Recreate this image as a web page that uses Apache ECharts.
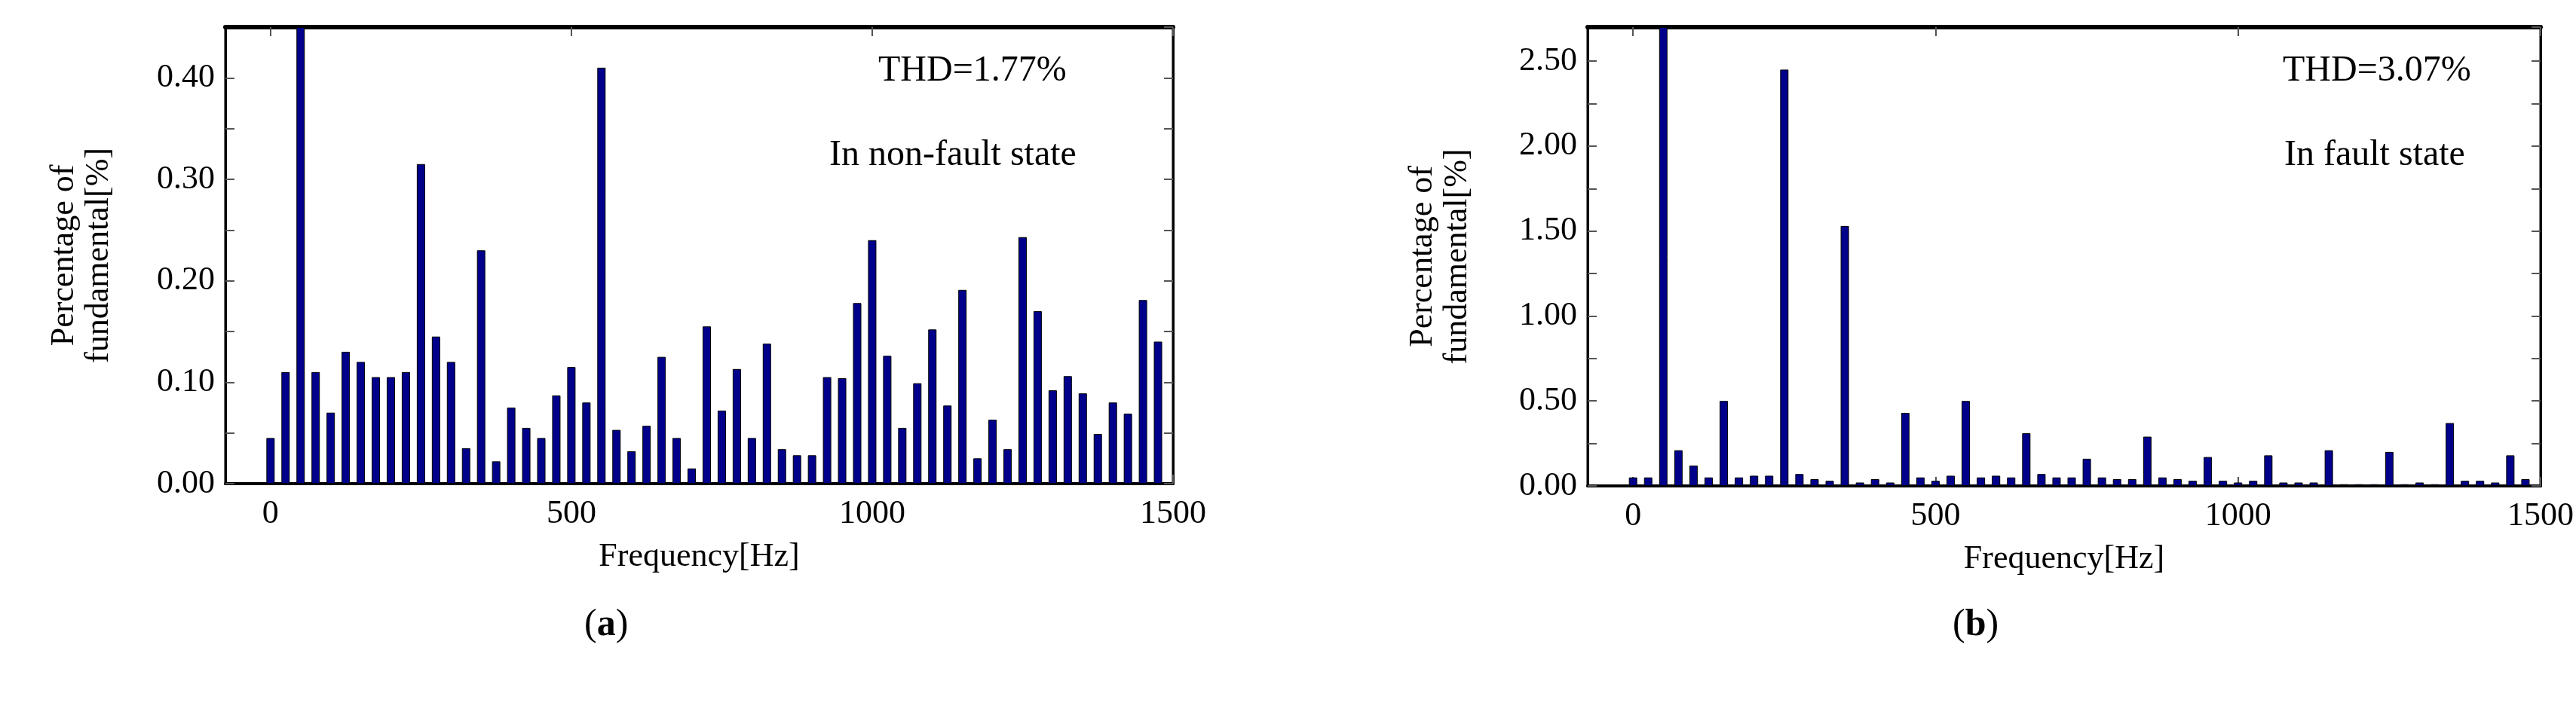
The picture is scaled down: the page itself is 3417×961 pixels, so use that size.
<!DOCTYPE html><html><head><meta charset="utf-8">
<script src="https://cdn.jsdelivr.net/npm/echarts@6/dist/echarts.min.js"></script>
<style>body{margin:0;background:#fff}#c{width:3417px;height:961px}</style></head><body><div id="c"></div>
<script>
const freqs = Array.from({length:60},(_,i)=>i*25);
const xTicks = [0,500,1000,1500];
const valsA = [0.045,0.11,0.45,0.11,0.07,0.13,0.12,0.105,0.105,0.11,0.315,0.145,0.12,0.035,0.23,0.022,0.075,0.055,0.045,0.087,0.115,0.08,0.41,0.053,0.032,0.057,0.125,0.045,0.015,0.155,0.072,0.113,0.045,0.138,0.034,0.028,0.028,0.105,0.104,0.178,0.24,0.126,0.055,0.099,0.152,0.077,0.191,0.025,0.063,0.034,0.243,0.17,0.092,0.106,0.089,0.049,0.08,0.069,0.181,0.14];
const valsB = [0.05,0.05,2.7,0.21,0.12,0.05,0.5,0.05,0.06,0.06,2.45,0.07,0.04,0.03,1.53,0.02,0.04,0.02,0.43,0.05,0.03,0.06,0.5,0.05,0.06,0.05,0.31,0.07,0.05,0.05,0.16,0.05,0.04,0.04,0.29,0.05,0.04,0.03,0.17,0.03,0.02,0.03,0.18,0.02,0.02,0.02,0.21,0.01,0.01,0.01,0.2,0.01,0.02,0.01,0.37,0.03,0.03,0.02,0.18,0.04];
const textA = ["THD=1.77%","In non-fault state"];
const textB = ["THD=3.07%","In fault state"];
const F = "Liberation Serif";
const grids = [{left:299,right:3417-1556,top:36,bottom:961-642},{left:2106,right:3417-3372,top:36,bottom:961-645}]
  .map(g=>Object.assign(g,{show:true,borderColor:'#000',borderWidth:3}));
function xa(i,show){return {gridIndex:i,type:'value',min:-75,max:1500,position:show?'bottom':'top',
 axisLine:{show:true,onZero:false,lineStyle:{color:'#000',width:show?4:6}},
 axisTick:{show:true,inside:true,length:12,customValues:xTicks,lineStyle:{color:'#555',width:2}},
 axisLabel:{show:show,customValues:xTicks,formatter:v=>String(v),fontFamily:F,fontSize:44,color:'#000',margin:18},
 splitLine:{show:false},name:show?'Frequency[Hz]':'',nameLocation:'middle',nameGap:75,
 nameTextStyle:{fontFamily:F,fontSize:44,color:'#000'}};}
function ya(i,show,max,iv,lab){return {gridIndex:i,type:'value',min:0,max:max,interval:iv,position:show?'left':'right',
 axisLine:{show:true,onZero:false,lineStyle:{color:'#000',width:3}},
 axisTick:{show:true,inside:true,length:12,lineStyle:{color:'#555',width:2}},
 axisLabel:{show:show,fontFamily:F,fontSize:44,color:'#000',margin:14,showMaxLabel:false,
   formatter:v=>{const r=Math.round(v/lab*1000)/1000;return Number.isInteger(r)?v.toFixed(2):'';}},
 splitLine:{show:false},name:show?'Percentage of\nfundamental[%]':'',nameLocation:'middle',nameGap:show?(i==0?145:150):0,
 nameTextStyle:{fontFamily:F,fontSize:44,color:'#000',lineHeight:46}};}
const sty={color:'#00008B',borderColor:'#000',borderWidth:1};
const opt={animation:false,
 grid:grids,
 xAxis:[xa(0,true),xa(0,false),xa(1,true),xa(1,false)],
 yAxis:[ya(0,true,0.45,0.05,0.1),ya(0,false,0.45,0.05,0.1),ya(1,true,2.7,0.25,0.5),ya(1,false,2.7,0.25,0.5)],
 series:[
  {type:'bar',xAxisIndex:0,yAxisIndex:0,barWidth:11,itemStyle:sty,data:freqs.map((f,i)=>[f,valsA[i]])},
  {type:'bar',xAxisIndex:2,yAxisIndex:2,barWidth:11,itemStyle:sty,data:freqs.map((f,i)=>[f,valsB[i]])}],
 graphic:[
  {type:'text',left:1165,top:70,style:{text:textA[0],font:'48px "Liberation Serif"',fill:'#000'}},
  {type:'text',left:1100,top:182,style:{text:textA[1],font:'48px "Liberation Serif"',fill:'#000'}},
  {type:'text',left:3028,top:70,style:{text:textB[0],font:'48px "Liberation Serif"',fill:'#000'}},
  {type:'text',left:3030,top:182,style:{text:textB[1],font:'48px "Liberation Serif"',fill:'#000'}},
  {type:'text',left:775,top:805,style:{rich:{a:{font:'50px "Liberation Serif"'},b:{font:'bold 50px "Liberation Serif"'}},text:'{a|(}{b|a}{a|)}',fill:'#000'}},
  {type:'text',left:2590,top:805,style:{rich:{a:{font:'50px "Liberation Serif"'},b:{font:'bold 50px "Liberation Serif"'}},text:'{a|(}{b|b}{a|)}',fill:'#000'}}
 ]};
echarts.init(document.getElementById('c')).setOption(opt);
</script></body></html>
